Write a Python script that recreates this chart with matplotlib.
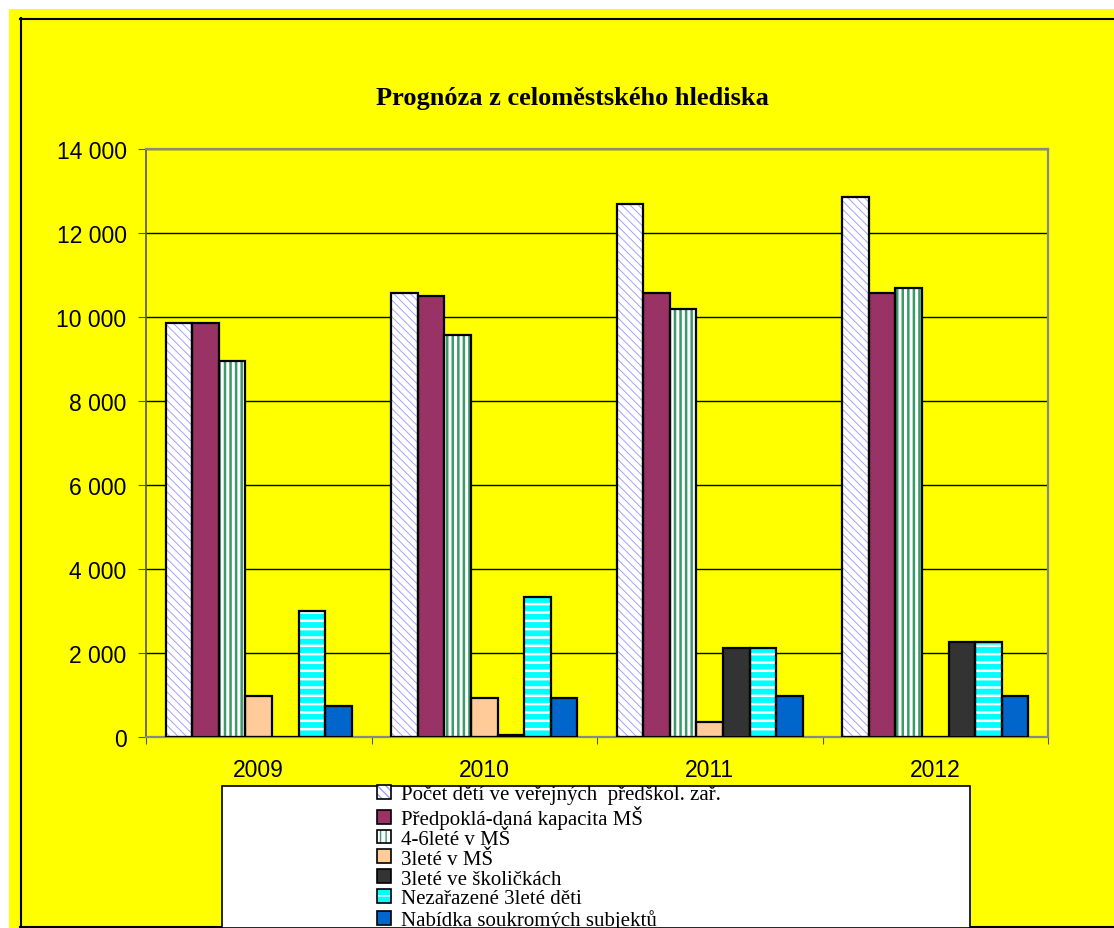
import numpy as np
import matplotlib
matplotlib.use("Agg")
import matplotlib.pyplot as plt
from matplotlib.patches import Patch, Rectangle
from matplotlib.lines import Line2D
from matplotlib.legend_handler import HandlerTuple
from matplotlib.ticker import FuncFormatter, MultipleLocator

years = ["2009", "2010", "2011", "2012"]
pocet = [9850, 10570, 12700, 12850]
kapacita = [9850, 10500, 10570, 10570]
ms_46 = [8950, 9580, 10200, 10700]
ms_3 = [970, 920, 360, 0]
skolicky = [0, 50, 2120, 2260]
nezarazene = [3010, 3330, 2120, 2260]
soukrome = [740, 920, 970, 970]

labels = ["Počet dětí ve veřejných  předškol. zař.",
          "Předpoklá-daná kapacita MŠ",
          "4-6leté v MŠ",
          "3leté v MŠ",
          "3leté ve školičkách",
          "Nezařazené 3leté děti",
          "Nabídka soukromých subjektů"]
values = [pocet, kapacita, ms_46, ms_3, skolicky, nezarazene, soukrome]

# face colour, hatch, hatch colour, hatch width
styles = [("white", "\\\\\\\\", "#a0a0ff", 0.7),
          ("#993366", None, None, 0),
          ("white", "|||", "#3c9a6a", 1.8),
          ("#ffcc99", None, None, 0),
          ("#333333", None, None, 0),
          ("#00ffff", "--", "white", 1.8),
          ("#0066cc", None, None, 0)]

W, H = 1114, 929
fig = plt.figure(figsize=(W / 100, H / 100), dpi=100, facecolor="white")

def fx(px):
    return px / W

def fy(py):
    return 1 - py / H

# yellow chart area and its border
fig.add_artist(Rectangle((fx(9), 0), 1 - fx(9), fy(10), transform=fig.transFigure,
                         facecolor="#ffff00", edgecolor="none", zorder=0))
fig.add_artist(Line2D([fx(20), 1], [fy(19.5), fy(19.5)], transform=fig.transFigure, color="black", lw=1.5))
fig.add_artist(Line2D([fx(20.5), fx(20.5)], [fy(19), fy(928)], transform=fig.transFigure, color="black", lw=1.5))
fig.add_artist(Line2D([fx(20), 1], [fy(928), fy(928)], transform=fig.transFigure, color="black", lw=1.5))

ax = fig.add_axes([fx(146), fy(738), fx(1048) - fx(146), fy(150) - fy(738)])
ax.set_facecolor("none")

x = np.arange(len(years))
w = 0.118
handles = []
for i, (lab, vals, st) in enumerate(zip(labels, values, styles)):
    face, hatch, hcol, hlw = st
    pos = x + (i - 3) * w
    with plt.rc_context({"hatch.linewidth": hlw if hlw else 1.0}):
        if hatch:
            b = ax.bar(pos, vals, w, color=face, edgecolor=hcol, hatch=hatch, linewidth=0, zorder=2)
            hp = Patch(facecolor=face, edgecolor=hcol, hatch=hatch, linewidth=0)
            for p in list(b) + [hp]:
                if hasattr(p, "set_hatch_linewidth"):
                    p.set_hatch_linewidth(hlw)
        else:
            ax.bar(pos, vals, w, color=face, linewidth=0, zorder=2)
            hp = Patch(facecolor=face, linewidth=0)
    ax.bar(pos, vals, w, fill=False, edgecolor="black", linewidth=1.6, zorder=3)
    handles.append((hp, Patch(fill=False, edgecolor="black", linewidth=1.2)))

ax.set_xlim(-0.5, 3.5)
ax.set_ylim(0, 14000)
ax.yaxis.set_major_locator(MultipleLocator(2000))
ax.yaxis.set_major_formatter(FuncFormatter(lambda v, p: f"{int(v):,}".replace(",", " ")))
ax.grid(axis="y", color="black", linewidth=1.0, zorder=1)
ax.set_axisbelow(True)

ax.set_xticks(np.arange(-0.5, 4, 1))
ax.set_xticklabels([])
ax.set_xticks(x, minor=True)
ax.set_xticklabels(years, minor=True)
ax.tick_params(axis="x", which="major", direction="out", length=5, color="#555555")
ax.tick_params(axis="x", which="minor", length=0, pad=15)
ax.tick_params(axis="y", direction="out", length=6, color="#555555", pad=8)
for lbl in ax.get_xticklabels(minor=True) + ax.get_yticklabels():
    lbl.set_fontfamily("Liberation Sans")
    lbl.set_fontsize(16.5)

for side in ["top", "right", "bottom"]:
    ax.spines[side].set_color("#888888")
    ax.spines[side].set_linewidth(1.6)
ax.spines["left"].set_color("#555555")
ax.spines["left"].set_linewidth(1.2)

fig.text(fx(572), fy(98), "Prognóza z celoměstského hlediska", ha="center", va="center",
         fontfamily="Liberation Serif", fontweight="bold", fontsize=19)

# legend box
fig.add_artist(Rectangle((fx(222), fy(929)), fx(970) - fx(222), fy(787) - fy(929),
                         transform=fig.transFigure, facecolor="white", edgecolor="black", lw=1.2, zorder=2))
leg = fig.legend(handles, labels, handler_map={tuple: HandlerTuple(ndivide=1)},
                 loc="upper left", bbox_to_anchor=(fx(377), fy(786)), frameon=False,
                 prop={"family": "Liberation Serif", "size": 15},
                 handlelength=0.65, handleheight=0.65, handletextpad=0.5,
                 labelspacing=0.03, borderpad=0, borderaxespad=0)
leg.set_zorder(3)

fig.savefig("out.png", dpi=100, facecolor="white")
